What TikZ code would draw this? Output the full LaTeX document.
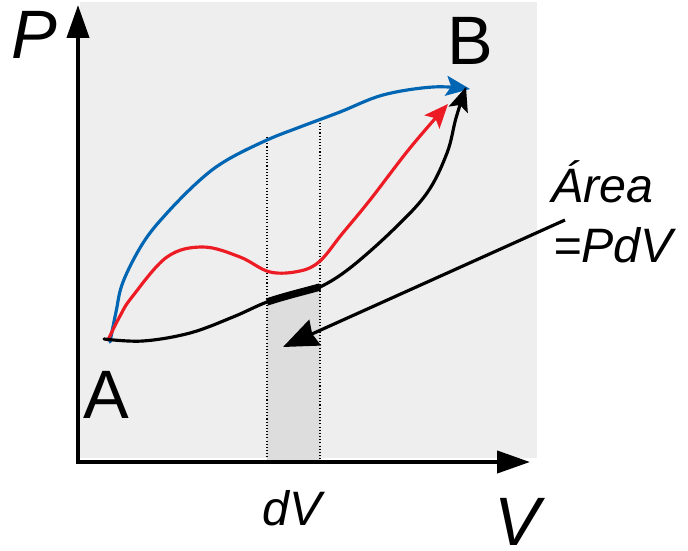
\documentclass[tikz,border=0pt]{standalone}
\usepackage{fontspec}
\setmainfont{Liberation Sans}
\usetikzlibrary{arrows.meta}

\definecolor{bggray}{HTML}{EEEEEE}
\definecolor{stripgray}{HTML}{DDDDDD}
\definecolor{pathblue}{HTML}{0066B3}
\definecolor{pathred}{HTML}{ED1C24}

\begin{document}
\begin{tikzpicture}[
    x=0.02cm, y=-0.02cm,
    axis/.style={line width=2.3pt, -{Triangle[length=0.66cm, width=0.44cm]}},
    curve/.style={line width=1.8pt, line cap=round, -{Stealth[length=0.48cm, width=0.4cm, inset=0.1cm]}},
    guide/.style={dash pattern=on 0.6pt off 1.2pt, line width=0.6pt},
    pointer/.style={line width=1.8pt, -{Stealth[length=0.7cm, width=0.56cm, inset=0.06cm]}},
    biglabel/.style={font=\fontsize{39}{40}\selectfont, anchor=base west, inner sep=0pt},
    smalllabel/.style={font=\fontsize{27.5}{30}\selectfont\itshape, anchor=base west, inner sep=0pt}
]
    \useasboundingbox (0,0) rectangle (688,550);

    % Background
    \fill[bggray] (80,2) rectangle (537,458);

    % Points
    \coordinate (A) at (108,340);
    \coordinate (Bblue) at (470,89);
    \coordinate (Bred) at (448,104);
    \coordinate (Bblack) at (466,87);
    \coordinate (dVleft) at (267,302);
    \coordinate (dVright) at (320,287);

    % Area strip
    \fill[stripgray] (dVleft |- 0,460) -- (dVleft) .. controls (285,296) and (302,292) .. (dVright) -- (dVright |- 0,460) -- cycle;
    \draw[guide] (267,137) -- (dVleft |- 0,460);
    \draw[guide] (320,123) -- (dVright |- 0,460);

    % Paths from A to B
    \draw[curve, pathblue] plot[smooth, tension=0.6] coordinates {(110,342) (116,312) (123,282) (143,243) (167,213) (200,180) (227,160) (267,140) (300,127) (340,112) (383,95) (433,87) (Bblue)};
    \draw[curve, pathred] plot[smooth, tension=0.6] coordinates {(A) (120,316) (132,297) (167,257) (203,247) (240,257) (270,272) (300,271) (320,261) (342,234) (370,200) (410,148) (Bred)};
    \draw[curve, black] plot[smooth, tension=0.6] coordinates {(104,339) (143,341) (190,333) (233,317) (dVleft) (300,292) (dVright) (350,268) (393,230) (427,193) (447,153) (456,118) (Bblack)};
    \draw[line width=4.2pt] (dVleft) .. controls (285,296) and (302,292) .. (dVright);

    % Axes
    \coordinate (Ptip) at (78,5);
    \coordinate (Vtip) at (530,462);
    \draw[axis] (78,464) -- (Ptip);
    \draw[axis] (76,462) -- (Vtip);

    % Labels
    \node[biglabel] (labP) at (11,59) {\itshape P};
    \node[biglabel] (labV) at (494,545) {\itshape V};
    \node[biglabel] (labA) at (83,418) {A};
    \node[biglabel] (labB) at (447,65) {B};
    \node[smalllabel] (labdV) at (262,525) {dV};
    \node[smalllabel] (labarea) at (551,203) {Área};
    \node[smalllabel] (labPdV) at (553,262) {=PdV};

    % Area pointer
    \coordinate (areastart) at (565,220);
    \coordinate (areatip) at (283,347);
    \draw[pointer] (areastart) -- (areatip);
\end{tikzpicture}
\end{document}
